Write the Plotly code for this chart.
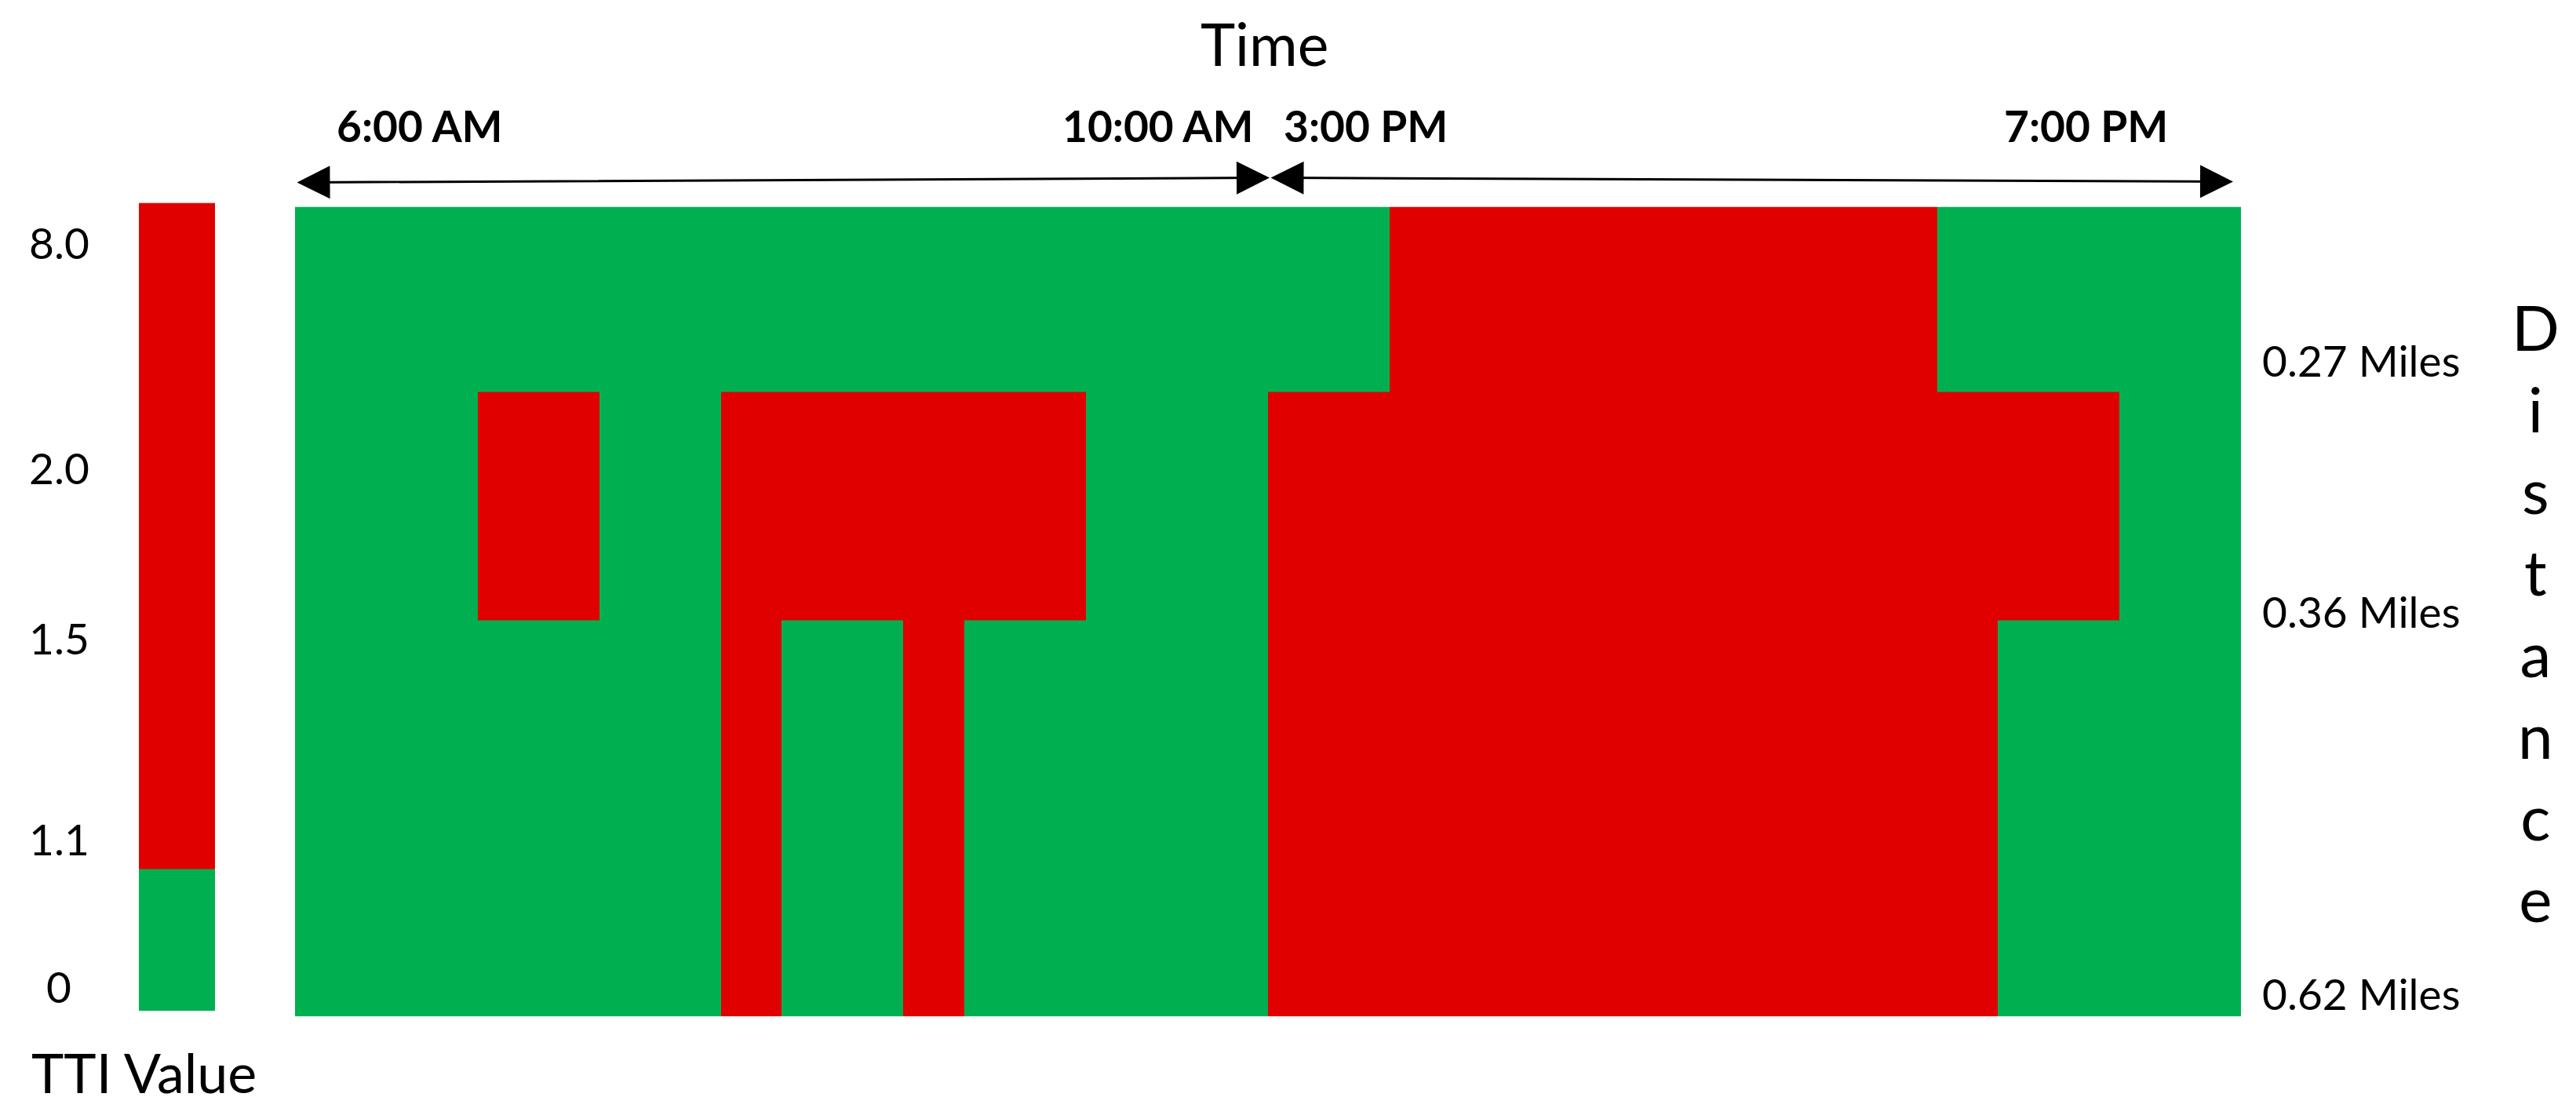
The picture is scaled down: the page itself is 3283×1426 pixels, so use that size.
import plotly.graph_objects as go

# ---------------- data ----------------
time_slots = [
    "6:00 AM", "6:15 AM", "6:30 AM", "6:45 AM", "7:00 AM", "7:15 AM", "7:30 AM", "7:45 AM",
    "8:00 AM", "8:15 AM", "8:30 AM", "8:45 AM", "9:00 AM", "9:15 AM", "9:30 AM", "9:45 AM",
    "3:00 PM", "3:15 PM", "3:30 PM", "3:45 PM", "4:00 PM", "4:15 PM", "4:30 PM", "4:45 PM",
    "5:00 PM", "5:15 PM", "5:30 PM", "5:45 PM", "6:00 PM", "6:15 PM", "6:30 PM", "6:45 PM",
]
segments = ["0.27 Miles", "0.36 Miles", "0.62 Miles"]
# segment boundaries along the corridor (relative units, top -> bottom)
segment_edges = [0.0, 0.236, 0.528, 1.034]
segment_label_pos = [0.198, 0.518, 1.006]

# 1 = TTI >= 1.1 (congested, red), 0 = TTI < 1.1 (green)
congested_027 = [0, 0, 0, 0, 0, 0, 0, 0, 0, 0, 0, 0, 0, 0, 0, 0,
                 0, 0, 1, 1, 1, 1, 1, 1, 1, 1, 1, 0, 0, 0, 0, 0]
congested_036 = [0, 0, 0, 1, 1, 0, 0, 1, 1, 1, 1, 1, 1, 0, 0, 0,
                 1, 1, 1, 1, 1, 1, 1, 1, 1, 1, 1, 1, 1, 1, 0, 0]
congested_062 = [0, 0, 0, 0, 0, 0, 0, 1, 0, 0, 1, 0, 0, 0, 0, 0,
                 1, 1, 1, 1, 1, 1, 1, 1, 1, 1, 1, 1, 0, 0, 0, 0]

tti_labels = ["0", "1.1", "1.5", "2.0", "8.0"]
tti_label_pos = [0.03, 0.213, 0.462, 0.672, 0.951]
tti_split = 0.176

time_marks = ["6:00 AM", "10:00 AM", "3:00 PM", "7:00 PM"]

# ---------------- layout helpers ----------------
W, H = 3283, 1426
GREEN = "#00B050"
RED = "#E00000"
FONT = "Lato"
PL, PR, PT, PB = 376, 2856, 264, 1298  # plot area in pixels


def px_x(px):
    return px / W


def px_y(py):
    return 1 - py / H


def dom_x(px):
    return (px - PL) / (PR - PL)


def dom_y(py):
    return (PB - py) / (PB - PT)


colorscale = [[0, GREEN], [0.5, GREEN], [0.5, RED], [1, RED]]

fig = go.Figure()

z = [congested_027, congested_036, congested_062]
fig.add_trace(go.Heatmap(
    z=z,
    x=list(range(len(time_slots) + 1)),
    y=segment_edges,
    customdata=[[t for t in time_slots] for _ in segments],
    hovertemplate="%{customdata}<extra></extra>",
    colorscale=colorscale, zmin=0, zmax=1, showscale=False,
    xaxis="x", yaxis="y",
))

# legend bar
fig.add_trace(go.Heatmap(
    z=[[0], [1]], x=[0, 1], y=[0, tti_split, 1],
    colorscale=colorscale, zmin=0, zmax=1, showscale=False,
    hoverinfo="skip", xaxis="x2", yaxis="y2",
))

ncol = len(time_slots)

annotations = []
# colour bar labels
for lab, pos in zip(tti_labels, tti_label_pos):
    annotations.append(dict(text=lab, xref="paper", yref="y2", x=px_x(75), y=pos,
                            xanchor="center", yanchor="middle", showarrow=False,
                            font=dict(family=FONT, size=55, color="black")))
annotations.append(dict(text="TTI Value", xref="paper", yref="paper", x=px_x(183), y=px_y(1369),
                        xanchor="center", yanchor="middle", showarrow=False,
                        font=dict(family=FONT, size=70, color="black")))
annotations.append(dict(text="Time", xref="paper", yref="paper", x=px_x(1611), y=px_y(55),
                        xanchor="center", yanchor="middle", showarrow=False,
                        font=dict(family=FONT, size=75, color="black")))
annotations.append(dict(text="<br>".join(list("Distance")), xref="paper", yref="paper",
                        x=px_x(3231), y=px_y(782), xanchor="center", yanchor="middle",
                        align="center", showarrow=False,
                        font=dict(family=FONT, size=80, color="black")))
for lab, cx in zip(time_marks, [535, 1475, 1740, 2658]):
    annotations.append(dict(text="<b>%s</b>" % lab, xref="x domain", yref="y domain",
                            x=dom_x(cx), y=dom_y(160),
                            xanchor="center", yanchor="middle", showarrow=False,
                            font=dict(family=FONT, size=55, color="black")))
# double-headed arrows
for (x0, y0, x1, y1) in [(377, 233, 1618, 227), (1618, 227, 2846, 232)]:
    annotations.append(dict(text="", xref="x domain", yref="y domain",
                            axref="x domain", ayref="y domain",
                            x=dom_x(x1), y=dom_y(y1), ax=dom_x(x0), ay=dom_y(y0),
                            showarrow=True, arrowside="end+start",
                            arrowhead=2, startarrowhead=2, arrowwidth=3,
                            arrowsize=2.8, startarrowsize=2.8, arrowcolor="black"))

fig.update_layout(
    width=W, height=H,
    margin=dict(l=0, r=0, t=0, b=0),
    paper_bgcolor="white", plot_bgcolor="white",
    showlegend=False,
    xaxis=dict(domain=[px_x(PL), px_x(PR)], range=[0, ncol], visible=False, anchor="y"),
    yaxis=dict(domain=[px_y(PB), px_y(PT)], range=[segment_edges[-1], 0],
               side="right", anchor="x", tickvals=segment_label_pos, ticktext=segments,
               ticks="", showgrid=False, zeroline=False, showline=False,
               ticklabelstandoff=26,
               tickfont=dict(family=FONT, size=55, color="black")),
    xaxis2=dict(domain=[px_x(177), px_x(274)], range=[0, 1], visible=False, anchor="y2"),
    yaxis2=dict(domain=[px_y(1291), px_y(259)], range=[0, 1], visible=False, anchor="x2"),
    annotations=annotations,
)

fig.write_html("out.html", config={"displayModeBar": False},
               post_script="document.body.style.margin='0';document.body.style.padding='0';document.body.style.overflow='hidden';")
